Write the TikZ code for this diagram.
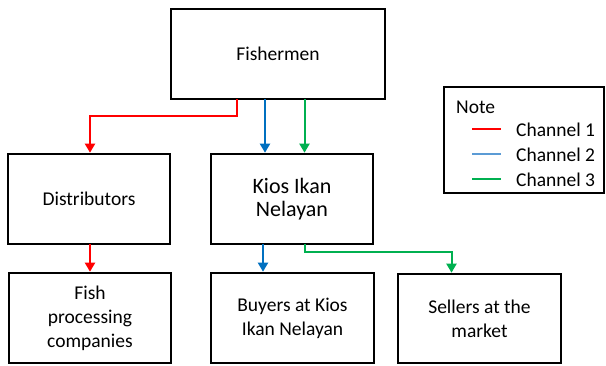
\documentclass[tikz,border=0pt]{standalone}
\usepackage{fontspec}
\setmainfont{Carlito}
\usetikzlibrary{arrows.meta}
\definecolor{cred}{RGB}{255,0,0}
\definecolor{cblue}{RGB}{0,112,192}
\definecolor{cbluel}{RGB}{91,155,213}
\definecolor{cgreen}{RGB}{0,176,80}
\begin{document}
\begin{tikzpicture}[x=1pt,y=-1pt,
 box/.style={draw=black, line width=2.6pt, fill=white, align=center, inner sep=0pt, outer sep=0pt,
   font=\fontsize{19.5}{24}\selectfont, minimum width=162pt, minimum height=90pt},
 arr/.style={line width=2pt, -{Triangle[length=9pt,width=10pt]}, shorten >=1.3pt},
 leg/.style={line width=2pt},
 legtxt/.style={anchor=west, inner sep=0pt, font=\fontsize{19.5}{24}\selectfont},
]
\useasboundingbox (0,0) rectangle (606,365);
\node[box, minimum width=214pt] (fish) at (278,54) {Fishermen};
\node[box] (dist) at (89,199) {Distributors};
\node[box, font=\fontsize{22}{23.5}\selectfont] (kios) at (292,199) {Kios Ikan\\Nelayan};
\node[box] (proc) at (90,318) {Fish\\processing\\companies};
\node[box, minimum width=163pt] (buy) at (292.5,318) {Buyers at Kios\\Ikan Nelayan};
\node[box, minimum width=163pt, minimum height=89pt] (sell) at (479.5,318.5) {Sellers at the\\market};
\node[box, minimum width=160pt, minimum height=106pt] (note) at (524,140) {};
% helper x positions
\coordinate (xr) at (237,0);
\coordinate (xb) at (265,0);
\coordinate (xg) at (304.5,0);
\coordinate (xr2) at (90,0);
\coordinate (xb2) at (263,0);
\coordinate (xg2) at (451.5,0);
% arrows
\draw[arr, cred] (fish.south -| xr) -- ++(0,17) -| (dist.north -| xr2);
\draw[arr, cblue] (fish.south -| xb) -- (kios.north -| xb);
\draw[arr, cgreen] (fish.south -| xg) -- (kios.north -| xg);
\draw[arr, cred] (dist.south -| xr2) -- (proc.north -| xr2);
\draw[arr, cblue] (kios.south -| xb2) -- (buy.north -| xb2);
\draw[arr, cgreen] (kios.south -| xg) -- ++(0,8) -| (sell.north -| xg2);
% legend
\node[legtxt] (notet) at (456,107) {Note};
\coordinate (l1a) at (472,129); \coordinate (l1b) at (501,129);
\coordinate (l2a) at (472,154); \coordinate (l2b) at (501,154);
\coordinate (l3a) at (472,179); \coordinate (l3b) at (501,179);
\draw[leg, cred] (l1a) -- (l1b);
\draw[leg, cbluel] (l2a) -- (l2b);
\draw[leg, cgreen] (l3a) -- (l3b);
\node[legtxt] (c1) at (516,130) {Channel 1};
\node[legtxt] (c2) at (516,155) {Channel 2};
\node[legtxt] (c3) at (516,179.5) {Channel 3};
\end{tikzpicture}
\end{document}
